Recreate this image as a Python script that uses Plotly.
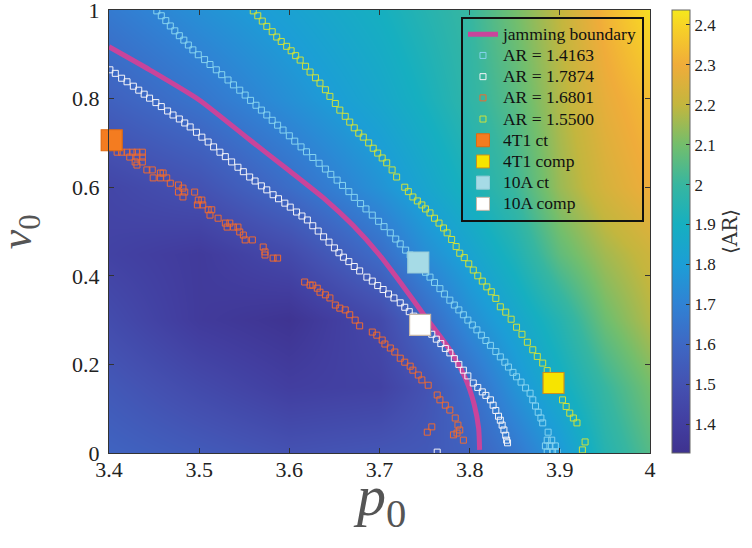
import plotly.graph_objects as go

# ---------------- data ----------------
# <AR> field sampled on a coarse grid (read from the colour of the map)
p0_grid = [3.4, 3.5, 3.6, 3.7, 3.75, 3.8, 3.85, 3.9, 3.95, 4.0]
v0_grid = [0.0, 0.15, 0.3, 0.45, 0.6, 0.8, 1.0]
ar_grid = [
    [1.58, 1.54, 1.50, 1.52, 1.53, 1.57, 1.66, 1.78, 1.95, 2.05],
    [1.53, 1.46, 1.40, 1.42, 1.50, 1.62, 1.76, 1.88, 2.00, 2.10],
    [1.47, 1.38, 1.34, 1.46, 1.60, 1.74, 1.84, 1.95, 2.09, 2.18],
    [1.42, 1.38, 1.46, 1.62, 1.74, 1.83, 1.93, 2.07, 2.16, 2.22],
    [1.44, 1.50, 1.62, 1.76, 1.84, 1.92, 2.01, 2.15, 2.24, 2.30],
    [1.57, 1.65, 1.75, 1.85, 1.91, 1.98, 2.06, 2.18, 2.28, 2.34],
    [1.67, 1.75, 1.82, 1.90, 1.95, 2.00, 2.10, 2.20, 2.32, 2.42],
]

# jamming boundary
jam_p0 = [3.400, 3.445, 3.500, 3.556, 3.600, 3.640, 3.670, 3.700, 3.725, 3.750, 3.778,
          3.795, 3.805, 3.810, 3.811]
jam_v0 = [0.917, 0.865, 0.797, 0.707, 0.637, 0.572, 0.515, 0.447, 0.380, 0.310, 0.233,
          0.170, 0.110, 0.055, 0.007]

# contour points: AR = 1.4163 (light blue)
lb_p0 = [3.453, 3.458, 3.463, 3.468, 3.473, 3.478, 3.483, 3.488, 3.493, 3.499, 3.506, 3.512,
         3.519, 3.525, 3.532, 3.538, 3.545, 3.551, 3.557, 3.563, 3.569, 3.575, 3.581, 3.587,
         3.593, 3.600, 3.606, 3.613, 3.619, 3.626, 3.633, 3.640, 3.646, 3.653, 3.659, 3.666,
         3.672, 3.679, 3.685, 3.692, 3.699, 3.705, 3.712, 3.718, 3.723, 3.729, 3.734, 3.740,
         3.745, 3.751, 3.756, 3.761, 3.767, 3.772, 3.778, 3.783, 3.788, 3.793, 3.798, 3.803,
         3.808, 3.813, 3.818, 3.823, 3.829, 3.834, 3.839, 3.843, 3.848, 3.852, 3.857, 3.862,
         3.867, 3.870, 3.873, 3.876, 3.879, 3.881, 3.887, 3.886, 3.891, 3.889, 3.884, 3.895,
         3.886, 3.892, 3.897]
lb_v0 = [0.998, 0.987, 0.976, 0.964, 0.953, 0.942, 0.932, 0.921, 0.910, 0.899, 0.888, 0.877,
         0.865, 0.854, 0.842, 0.831, 0.819, 0.808, 0.796, 0.785, 0.774, 0.763, 0.751, 0.740,
         0.729, 0.716, 0.704, 0.691, 0.680, 0.667, 0.654, 0.641, 0.629, 0.616, 0.604, 0.590,
         0.577, 0.563, 0.551, 0.537, 0.523, 0.511, 0.497, 0.483, 0.472, 0.458, 0.447, 0.433,
         0.422, 0.408, 0.397, 0.385, 0.371, 0.359, 0.345, 0.334, 0.323, 0.312, 0.300, 0.289,
         0.278, 0.266, 0.254, 0.243, 0.229, 0.217, 0.205, 0.194, 0.182, 0.172, 0.160, 0.147,
         0.135, 0.120, 0.106, 0.092, 0.079, 0.068, 0.047, 0.029, 0.029, 0.016, 0.016, 0.016,
         0.002, 0.002, 0.002]

# contour points: AR = 1.7874 (white)
wh_p0 = [3.401, 3.407, 3.414, 3.420, 3.427, 3.433, 3.439, 3.445, 3.452, 3.458, 3.465, 3.471,
         3.478, 3.484, 3.490, 3.497, 3.503, 3.510, 3.516, 3.523, 3.529, 3.536, 3.543, 3.549,
         3.556, 3.562, 3.569, 3.575, 3.582, 3.588, 3.595, 3.601, 3.608, 3.614, 3.620, 3.626,
         3.632, 3.638, 3.644, 3.650, 3.655, 3.660, 3.666, 3.672, 3.678, 3.686, 3.692, 3.698,
         3.704, 3.710, 3.716, 3.723, 3.728, 3.733, 3.738, 3.743, 3.748, 3.753, 3.758, 3.763,
         3.768, 3.773, 3.778, 3.783, 3.788, 3.793, 3.798, 3.804, 3.809, 3.814, 3.818, 3.823,
         3.826, 3.829, 3.832, 3.834, 3.836, 3.838, 3.840, 3.841, 3.842, 3.764]
wh_v0 = [0.865, 0.857, 0.846, 0.838, 0.828, 0.819, 0.810, 0.801, 0.791, 0.782, 0.772, 0.763,
         0.754, 0.745, 0.736, 0.724, 0.713, 0.702, 0.691, 0.679, 0.669, 0.657, 0.645, 0.635,
         0.623, 0.614, 0.603, 0.594, 0.583, 0.574, 0.564, 0.555, 0.544, 0.535, 0.526, 0.513,
         0.501, 0.488, 0.476, 0.463, 0.452, 0.442, 0.432, 0.421, 0.411, 0.397, 0.388, 0.378,
         0.369, 0.359, 0.350, 0.339, 0.329, 0.319, 0.309, 0.298, 0.288, 0.278, 0.268, 0.257,
         0.247, 0.236, 0.226, 0.213, 0.200, 0.187, 0.174, 0.158, 0.148, 0.138, 0.130, 0.120,
         0.108, 0.096, 0.083, 0.074, 0.063, 0.052, 0.040, 0.029, 0.023, 0.002]

# contour points: AR = 1.6801 (orange)
or_p0 = [3.409, 3.414, 3.420, 3.426, 3.431, 3.437, 3.423, 3.431, 3.437, 3.429, 3.437, 3.431,
         3.442, 3.448, 3.457, 3.460, 3.449, 3.457, 3.464, 3.468, 3.477, 3.482, 3.477, 3.484,
         3.482, 3.495, 3.499, 3.503, 3.498, 3.504, 3.510, 3.514, 3.512, 3.521, 3.529, 3.534,
         3.531, 3.538, 3.543, 3.545, 3.549, 3.551, 3.559, 3.571, 3.573, 3.573, 3.582, 3.587,
         3.617, 3.623, 3.626, 3.631, 3.634, 3.640, 3.645, 3.651, 3.656, 3.662, 3.667, 3.673,
         3.678, 3.692, 3.697, 3.703, 3.706, 3.712, 3.717, 3.723, 3.728, 3.734, 3.737, 3.743,
         3.747, 3.754, 3.764, 3.767, 3.773, 3.778, 3.784, 3.787, 3.789, 3.786, 3.753, 3.758,
         3.782, 3.793]
or_v0 = [0.679, 0.679, 0.679, 0.679, 0.679, 0.679, 0.668, 0.668, 0.668, 0.657, 0.657, 0.650,
         0.639, 0.639, 0.632, 0.632, 0.621, 0.621, 0.621, 0.609, 0.605, 0.598, 0.589, 0.589,
         0.578, 0.589, 0.571, 0.571, 0.560, 0.560, 0.549, 0.549, 0.537, 0.530, 0.519, 0.519,
         0.510, 0.510, 0.510, 0.499, 0.492, 0.481, 0.481, 0.465, 0.454, 0.447, 0.440, 0.440,
         0.386, 0.379, 0.379, 0.372, 0.363, 0.357, 0.350, 0.334, 0.327, 0.323, 0.312, 0.300,
         0.287, 0.273, 0.266, 0.255, 0.246, 0.237, 0.228, 0.214, 0.205, 0.196, 0.187, 0.176,
         0.165, 0.153, 0.131, 0.120, 0.108, 0.097, 0.079, 0.063, 0.052, 0.045, 0.047, 0.059,
         0.041, 0.029]

# contour points: AR = 1.5500 (yellow-green)
ye_p0 = [3.560, 3.565, 3.570, 3.575, 3.581, 3.586, 3.591, 3.597, 3.602, 3.607, 3.612, 3.618,
         3.623, 3.629, 3.634, 3.640, 3.645, 3.651, 3.656, 3.662, 3.667, 3.672, 3.677, 3.682,
         3.688, 3.693, 3.698, 3.703, 3.708, 3.714, 3.719, 3.728, 3.732, 3.737, 3.742, 3.747,
         3.751, 3.756, 3.761, 3.766, 3.771, 3.775, 3.780, 3.785, 3.789, 3.794, 3.799, 3.804,
         3.809, 3.814, 3.819, 3.824, 3.829, 3.834, 3.840, 3.846, 3.852, 3.858, 3.864, 3.870,
         3.875, 3.881, 3.886, 3.892, 3.897, 3.903, 3.907, 3.911, 3.915, 3.919, 3.928, 3.925]
ye_v0 = [0.998, 0.987, 0.975, 0.963, 0.951, 0.939, 0.929, 0.918, 0.908, 0.897, 0.887, 0.873,
         0.860, 0.847, 0.835, 0.820, 0.805, 0.789, 0.774, 0.760, 0.747, 0.734, 0.722, 0.713,
         0.700, 0.688, 0.677, 0.666, 0.655, 0.639, 0.623, 0.600, 0.590, 0.578, 0.569, 0.560,
         0.551, 0.542, 0.530, 0.519, 0.508, 0.497, 0.482, 0.466, 0.451, 0.441, 0.427, 0.413,
         0.400, 0.388, 0.375, 0.364, 0.349, 0.330, 0.318, 0.302, 0.284, 0.268, 0.250, 0.233,
         0.218, 0.203, 0.186, 0.158, 0.143, 0.120, 0.105, 0.090, 0.079, 0.068, 0.025, 0.007]

# experimental points
exp_names = ["4T1 ct", "4T1 comp", "10A ct", "10A comp"]
exp_p0 = [3.403, 3.893, 3.743, 3.745]
exp_v0 = [0.706, 0.158, 0.430, 0.289]

contour_names = ["AR = 1.4163", "AR = 1.7874", "AR = 1.6801", "AR = 1.5500"]
cbar_ticks = [1.4, 1.5, 1.6, 1.7, 1.8, 1.9, 2.0, 2.1, 2.2, 2.3, 2.4]
x_ticks = [3.4, 3.5, 3.6, 3.7, 3.8, 3.9, 4.0]
y_ticks = [0, 0.2, 0.4, 0.6, 0.8, 1.0]

# ---------------- styles ----------------
ZMIN, ZMAX = 1.3275, 2.4375
# colour ramp as it appears in the reference colour bar (value -> colour)
ramp = [
    (1.3275, "rgb(62,50,143)"), (1.40, "rgb(66,62,160)"), (1.50, "rgb(68,82,178)"),
    (1.60, "rgb(62,104,196)"), (1.70, "rgb(48,130,212)"), (1.80, "rgb(28,158,214)"),
    (1.90, "rgb(22,175,192)"), (2.00, "rgb(55,182,160)"), (2.10, "rgb(115,190,108)"),
    (2.20, "rgb(195,182,62)"), (2.30, "rgb(240,172,58)"), (2.40, "rgb(247,212,38)"),
    (2.4375, "rgb(245,232,28)"),
]
colorscale = [[(v - ZMIN) / (ZMAX - ZMIN), c] for v, c in ramp]

serif = "Liberation Serif, Times New Roman, serif"
contour_colors = ["#86d3ef", "#f4f4f8", "#ee6a30", "#cfe23a"]
exp_fill = ["#f47c20", "#f7e400", "#a6dbe6", "#ffffff"]
exp_line = ["#e06a10", "#c89020", "#98ccd8", "#c8b8a8"]


def legend_label(s):
    # larger glyphs than the (tight) legend line height
    return f'<span style="font-size:17.5px">{s}</span>'


fig = go.Figure()

fig.add_trace(go.Heatmap(
    x=p0_grid, y=v0_grid, z=ar_grid, zsmooth="best",
    colorscale=colorscale, zmin=ZMIN, zmax=ZMAX, showlegend=False, hoverinfo="skip",
    colorbar=dict(
        x=1.0407, xanchor="left", xpad=0, y=0.5, yanchor="middle", ypad=0,
        len=1, lenmode="fraction", thickness=18,
        outlinewidth=1, outlinecolor="#666",
        tickvals=cbar_ticks, ticktext=[f"{t:g}" for t in cbar_ticks],
        ticks="inside", ticklen=4, tickcolor="#333",
        tickfont=dict(family=serif, size=17, color="#222"),
        title=dict(text="\u27e8AR\u27e9", side="right",
                   font=dict(family="DejaVu Serif, " + serif, size=20, color="#333")),
    ),
))

fig.add_trace(go.Scatter(
    x=jam_p0, y=jam_v0, mode="lines", name=legend_label("jamming boundary"),
    line=dict(color="#c9449b", width=5, shape="spline", smoothing=0.6),
))

for name, px, vy, col in zip(contour_names,
                             [lb_p0, wh_p0, or_p0, ye_p0],
                             [lb_v0, wh_v0, or_v0, ye_v0],
                             contour_colors):
    fig.add_trace(go.Scatter(
        x=px, y=vy, mode="markers", name=legend_label(name),
        marker=dict(symbol="square-open", size=6, color=col, line=dict(width=1, color=col)),
    ))

for i, name in enumerate(exp_names):
    fig.add_trace(go.Scatter(
        x=[exp_p0[i]], y=[exp_v0[i]], mode="markers", name=name, cliponaxis=False,
        showlegend=False,
        marker=dict(symbol="square", size=21, color=exp_fill[i],
                    line=dict(width=1.2, color=exp_line[i])),
    ))
    fig.add_trace(go.Scatter(
        x=[None], y=[None], mode="markers", name=legend_label(name),
        marker=dict(symbol="square", size=13, color=exp_fill[i],
                    line=dict(width=1, color=exp_line[i])),
    ))

axis_common = dict(
    showgrid=False, zeroline=False, ticks="inside", ticklen=5, tickcolor="#333",
    showline=True, linecolor="#333", linewidth=1, mirror="ticks",
    tickfont=dict(family=serif, size=22, color="#222"),
    ticklabeloverflow="allow",
)
fig.update_xaxes(range=[3.4, 4.0], tickvals=x_ticks,
                 ticktext=[f"{t:g}" for t in x_ticks], ticklabelstandoff=-3,
                 **axis_common)
fig.update_yaxes(range=[0, 1.0], tickvals=y_ticks,
                 ticktext=[f"{t:g}" for t in y_ticks], ticklabelstandoff=4,
                 **axis_common)

fig.update_layout(
    width=752, height=548,
    margin=dict(l=109, r=102, t=10, b=95, autoexpand=False),
    paper_bgcolor="white", plot_bgcolor="white",
    legend=dict(x=0.6506, y=0.985, xanchor="left", yanchor="top",
                bgcolor="rgba(0,0,0,0)", bordercolor="#111", borderwidth=2,
                font=dict(family=serif, size=14, color="#111"),
                tracegroupgap=0, itemwidth=30),
    annotations=[
        dict(text="<i>p</i><sub>0</sub>", xref="paper", yref="paper",
             x=0.5, y=-0.106, xanchor="center", yanchor="middle", showarrow=False,
             font=dict(family=serif, size=58, color="#555")),
        dict(text="<i>v</i><sub>0</sub>", xref="paper", yref="paper", textangle=-90,
             x=-0.165, y=0.5, xanchor="center", yanchor="middle", showarrow=False,
             font=dict(family=serif, size=44, color="#555")),
    ],
)

fig.write_html("out.html", config={"displayModeBar": False},
               post_script="document.body.style.margin='0px';")
